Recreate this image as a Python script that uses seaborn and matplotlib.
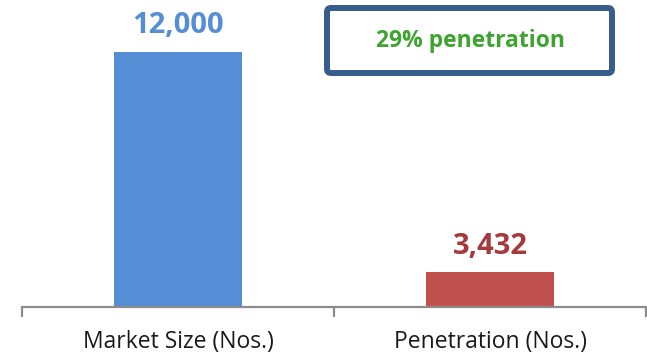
import matplotlib
matplotlib.use("Agg")
import matplotlib.pyplot as plt
from matplotlib.patches import FancyBboxPatch
from matplotlib.ticker import FixedLocator
import seaborn as sns
import pandas as pd

# Chart data
categories = ["Market Size (Nos.)", "Penetration (Nos.)"]
values = [12000, 3432]
value_labels = ["12,000", "3,432"]
callout_text = "29% penetration"

bar_colors = ["#558ED5", "#C0504D"]
label_colors = ["#558ED5", "#A6393B"]

sns.set_theme(style="white")
plt.rcParams["font.family"] = ["Open Sans", "DejaVu Sans"]

W, H = 647, 356
fig = plt.figure(figsize=(W / 100, H / 100), dpi=100)
ax = fig.add_axes([22 / W, (H - 307.3) / H, 624 / W, 307.3 / H])

df = pd.DataFrame({"category": categories, "value": values})
sns.barplot(data=df, x="category", y="value", hue="category",
            palette=bar_colors, width=0.41, legend=False, ax=ax,
            saturation=1, edgecolor="none")

ax.set_xlim(-0.5, 1.5)
ax.set_ylim(2073, 14007)
ax.set_xlabel("")
ax.set_ylabel("")
ax.set_yticks([])

for side in ["left", "right", "top"]:
    ax.spines[side].set_visible(False)
ax.spines["bottom"].set_color("#8C8C8C")
ax.spines["bottom"].set_linewidth(1.6)

# category labels without marks; separator ticks between categories
ax.set_xticks([0, 1])
ax.set_xticklabels(categories, fontsize=16.5, color="#1A1A1A")
ax.tick_params(axis="x", which="major", length=0, pad=16)
ax.xaxis.set_minor_locator(FixedLocator([-0.5, 0.5, 1.5]))
ax.tick_params(axis="x", which="minor", length=7.5, width=1.6,
               color="#8C8C8C", direction="out", bottom=True)

# value labels above the bars
for i, (v, txt, c) in enumerate(zip(values, value_labels, label_colors)):
    ax.annotate(txt, xy=(i, v), xytext=(0, 13.5), textcoords="offset points",
                ha="center", va="baseline", fontsize=21, fontweight="bold",
                color=c)

# penetration call-out box
box = FancyBboxPatch((3.27, 2.83), 2.85, 0.65,
                     boxstyle="round,pad=0,rounding_size=0.04",
                     transform=fig.dpi_scale_trans, facecolor="white",
                     edgecolor="#375D8C", linewidth=4.3)
fig.add_artist(box)
fig.text(470 / W, 1 - 41 / H, callout_text, ha="center", va="center",
         fontsize=16.5, fontweight="bold", color="#3DA52F")

fig.savefig("out.png", dpi=100)
